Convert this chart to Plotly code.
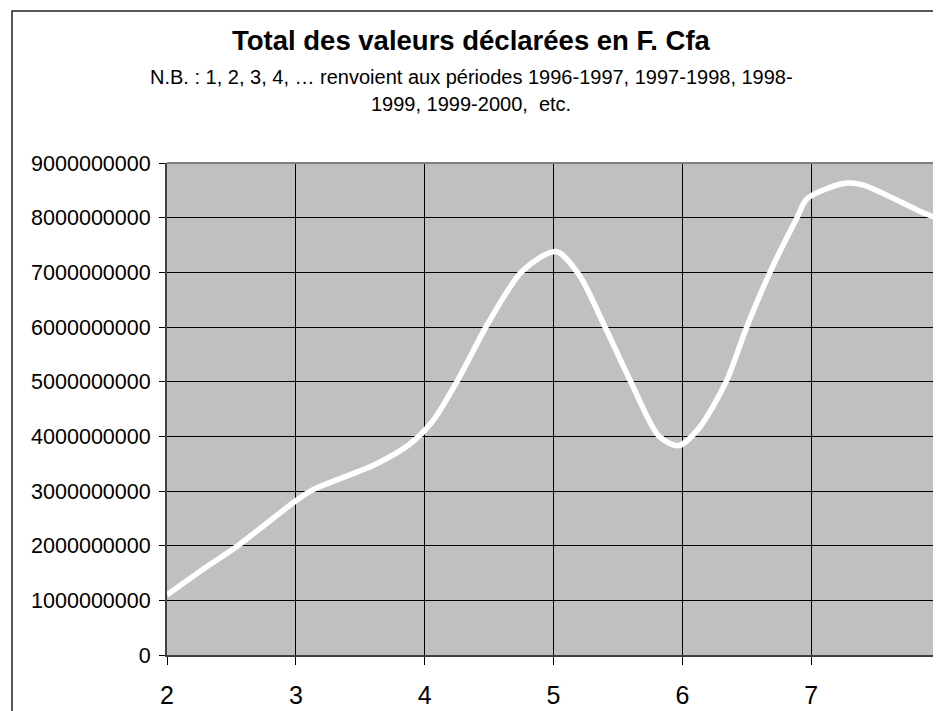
import plotly.graph_objects as go

# Data (period index vs total declared value in F. Cfa)
periods = [2.0, 2.25, 2.55, 3.0, 3.13, 3.62, 3.88, 4.06, 4.25, 4.5, 4.76, 5.02,
           5.2, 5.4, 5.6, 5.82, 5.97, 6.13, 6.34, 6.5, 6.68, 6.89, 6.97, 7.26,
           7.4, 7.86, 8.0]
values = [1.10e9, 1.52e9, 2.0e9, 2.82e9, 3.02e9, 3.49e9, 3.85e9, 4.27e9, 5.0e9,
          6.1e9, 7.03e9, 7.38e9, 6.95e9, 6.0e9, 5.0e9, 4.0e9, 3.83e9, 4.15e9,
          5.0e9, 6.0e9, 7.0e9, 8.0e9, 8.35e9, 8.63e9, 8.6e9, 8.1e9, 7.97e9]

x_ticks = [2, 3, 4, 5, 6, 7, 8]
y_ticks = [0, 1e9, 2e9, 3e9, 4e9, 5e9, 6e9, 7e9, 8e9, 9e9]
y_tick_labels = ["0", "1000000000", "2000000000", "3000000000", "4000000000",
                 "5000000000", "6000000000", "7000000000", "8000000000", "9000000000"]

title_text = "Total des valeurs déclarées en F. Cfa"
note_line1 = "N.B. : 1, 2, 3, 4, … renvoient aux périodes 1996-1997, 1997-1998, 1998-"
note_line2 = "1999, 1999-2000,  etc."

FONT = "Liberation Sans, Arial, sans-serif"
OFF = 8  # default page body margin
WIN_W, WIN_H = 941, 711
W, H = WIN_W - OFF, WIN_H - OFF
# plot area in window pixels: x 167..940, y 163..655
ML = 167 - OFF
MR = W - (940 - OFF)
MT = 163 - OFF
MB = H - (655 - OFF)

fig = go.Figure()
fig.add_trace(go.Scatter(
    x=periods, y=values, mode="lines",
    line=dict(color="white", width=5.5, shape="spline", smoothing=0.8),
    hoverinfo="x+y", showlegend=False,
))

pw = W - ML - MR
ph = H - MT - MB
def px_x(p):  # window pixel -> paper
    return (p - OFF - ML) / pw
def px_y(p):
    return (H - MB - (p - OFF)) / ph

fig.update_layout(
    width=W, height=H,
    margin=dict(l=ML, r=MR, t=MT, b=MB, autoexpand=False),
    paper_bgcolor="white",
    plot_bgcolor="#C0C0C0",
    font=dict(family=FONT, color="black"),
    xaxis=dict(
        range=[2, 8], tickvals=x_ticks, ticktext=[str(v) for v in x_ticks],
        showgrid=True, gridcolor="black", gridwidth=1,
        showline=True, linecolor="#404040", linewidth=2,
        ticks="outside", ticklen=8, tickcolor="black", tickwidth=1,
        tickfont=dict(size=25, family=FONT), ticklabelstandoff=9,
        ticklabeloverflow="allow",
        zeroline=False, automargin=False,
    ),
    yaxis=dict(
        range=[0, 9e9], tickvals=y_ticks, ticktext=y_tick_labels,
        showgrid=True, gridcolor="black", gridwidth=1,
        showline=True, linecolor="#404040", linewidth=2,
        ticks="outside", ticklen=6, tickcolor="black", tickwidth=1,
        tickfont=dict(size=21.5, family=FONT), ticklabelstandoff=4,
        zeroline=False, automargin=False,
    ),
    annotations=[
        dict(text="<b>" + title_text + "</b>", xref="paper", yref="paper",
             x=px_x(471), y=px_y(40), xanchor="center", yanchor="middle",
             showarrow=False, font=dict(size=27.5, family=FONT)),
        dict(text=note_line1, xref="paper", yref="paper",
             x=px_x(471), y=px_y(77), xanchor="center", yanchor="middle",
             showarrow=False, font=dict(size=20, family=FONT)),
        dict(text=note_line2, xref="paper", yref="paper",
             x=px_x(471), y=px_y(104), xanchor="center", yanchor="middle",
             showarrow=False, font=dict(size=20, family=FONT)),
    ],
    shapes=[
        # outer chart frame (continues beyond the visible crop)
        dict(type="rect", xref="paper", yref="paper",
             x0=px_x(12), x1=px_x(980), y0=px_y(760), y1=px_y(11),
             line=dict(color="#222222", width=1.5), layer="below"),
        # top edge of plot area
        dict(type="line", xref="paper", yref="paper",
             x0=0, x1=1, y0=1, y1=1,
             line=dict(color="#808080", width=2), layer="above"),
    ],
)

fig.write_html("out.html")
